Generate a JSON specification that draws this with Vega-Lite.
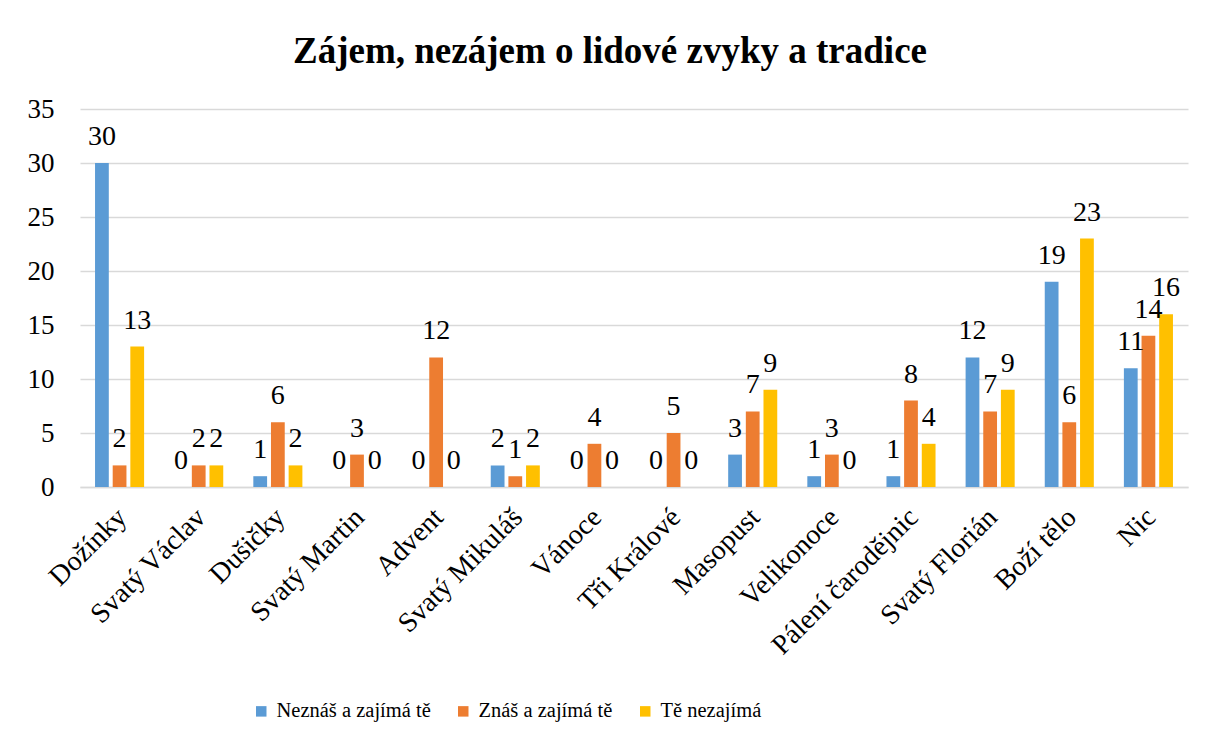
{
  "$schema": "https://vega.github.io/schema/vega-lite/v6.json",
  "width": 1108,
  "height": 378,
  "autosize": {"type": "none"},
  "padding": {"left": 80, "top": 109, "right": 20, "bottom": 257},
  "background": "white",
  "title": {
    "text": "Zájem, nezájem o lidové zvyky a tradice",
    "font": "Liberation Serif",
    "fontSize": 37,
    "fontWeight": "bold",
    "color": "black",
    "anchor": "middle",
    "frame": "group",
    "dx": -24,
    "offset": 24
  },
  "data": {
    "values": [
      {"k": "Dožínky", "s": "Neznáš a zajímá tě", "v": 30},
      {"k": "Dožínky", "s": "Znáš a zajímá tě", "v": 2},
      {"k": "Dožínky", "s": "Tě nezajímá", "v": 13},
      {"k": "Svatý Václav", "s": "Neznáš a zajímá tě", "v": 0},
      {"k": "Svatý Václav", "s": "Znáš a zajímá tě", "v": 2},
      {"k": "Svatý Václav", "s": "Tě nezajímá", "v": 2},
      {"k": "Dušičky", "s": "Neznáš a zajímá tě", "v": 1},
      {"k": "Dušičky", "s": "Znáš a zajímá tě", "v": 6},
      {"k": "Dušičky", "s": "Tě nezajímá", "v": 2},
      {"k": "Svatý Martin", "s": "Neznáš a zajímá tě", "v": 0},
      {"k": "Svatý Martin", "s": "Znáš a zajímá tě", "v": 3},
      {"k": "Svatý Martin", "s": "Tě nezajímá", "v": 0},
      {"k": "Advent", "s": "Neznáš a zajímá tě", "v": 0},
      {"k": "Advent", "s": "Znáš a zajímá tě", "v": 12},
      {"k": "Advent", "s": "Tě nezajímá", "v": 0},
      {"k": "Svatý Mikuláš", "s": "Neznáš a zajímá tě", "v": 2},
      {"k": "Svatý Mikuláš", "s": "Znáš a zajímá tě", "v": 1},
      {"k": "Svatý Mikuláš", "s": "Tě nezajímá", "v": 2},
      {"k": "Vánoce", "s": "Neznáš a zajímá tě", "v": 0},
      {"k": "Vánoce", "s": "Znáš a zajímá tě", "v": 4},
      {"k": "Vánoce", "s": "Tě nezajímá", "v": 0},
      {"k": "Tři Králové", "s": "Neznáš a zajímá tě", "v": 0},
      {"k": "Tři Králové", "s": "Znáš a zajímá tě", "v": 5},
      {"k": "Tři Králové", "s": "Tě nezajímá", "v": 0},
      {"k": "Masopust", "s": "Neznáš a zajímá tě", "v": 3},
      {"k": "Masopust", "s": "Znáš a zajímá tě", "v": 7},
      {"k": "Masopust", "s": "Tě nezajímá", "v": 9},
      {"k": "Velikonoce", "s": "Neznáš a zajímá tě", "v": 1},
      {"k": "Velikonoce", "s": "Znáš a zajímá tě", "v": 3},
      {"k": "Velikonoce", "s": "Tě nezajímá", "v": 0},
      {"k": "Pálení čarodějnic", "s": "Neznáš a zajímá tě", "v": 1},
      {"k": "Pálení čarodějnic", "s": "Znáš a zajímá tě", "v": 8},
      {"k": "Pálení čarodějnic", "s": "Tě nezajímá", "v": 4},
      {"k": "Svatý Florián", "s": "Neznáš a zajímá tě", "v": 12},
      {"k": "Svatý Florián", "s": "Znáš a zajímá tě", "v": 7},
      {"k": "Svatý Florián", "s": "Tě nezajímá", "v": 9},
      {"k": "Boží tělo", "s": "Neznáš a zajímá tě", "v": 19},
      {"k": "Boží tělo", "s": "Znáš a zajímá tě", "v": 6},
      {"k": "Boží tělo", "s": "Tě nezajímá", "v": 23},
      {"k": "Nic", "s": "Neznáš a zajímá tě", "v": 11},
      {"k": "Nic", "s": "Znáš a zajímá tě", "v": 14},
      {"k": "Nic", "s": "Tě nezajímá", "v": 16}
    ]
  },
  "encoding": {
    "x": {
      "field": "k",
      "type": "nominal",
      "sort": null,
      "title": null,
      "scale": {"paddingInner": 0.38, "paddingOuter": 0.19},
      "axis": {
        "labelAngle": -45,
        "labelFont": "Liberation Serif",
        "labelFontSize": 28,
        "labelColor": "black",
        "labelPadding": 16,
        "labelOffset": -7,
        "labelLimit": 0,
        "ticks": false,
        "domainColor": "#D9D9D9",
        "domainWidth": 1.5
      }
    },
    "xOffset": {
      "field": "s",
      "type": "nominal",
      "sort": ["Neznáš a zajímá tě", "Znáš a zajímá tě", "Tě nezajímá"],
      "scale": {"paddingInner": 0.22, "paddingOuter": 0}
    },
    "y": {
      "field": "v",
      "type": "quantitative",
      "title": null,
      "scale": {"domain": [0, 35], "nice": false},
      "axis": {
        "values": [0, 5, 10, 15, 20, 25, 30, 35],
        "labelFont": "Liberation Serif",
        "labelFontSize": 27,
        "labelColor": "black",
        "labelPadding": 26,
        "ticks": false,
        "domain": false,
        "gridColor": "#D9D9D9",
        "gridWidth": 1.5
      }
    }
  },
  "layer": [
    {
      "mark": {"type": "bar"},
      "encoding": {
        "color": {
          "field": "s",
          "type": "nominal",
          "sort": ["Neznáš a zajímá tě", "Znáš a zajímá tě", "Tě nezajímá"],
          "scale": {
            "domain": ["Neznáš a zajímá tě", "Znáš a zajímá tě", "Tě nezajímá"],
            "range": ["#5B9BD5", "#ED7D31", "#FFC000"]
          },
          "legend": {
            "title": null,
            "orient": "none",
            "direction": "horizontal",
            "legendX": 171,
            "legendY": 592,
            "labelFont": "Liberation Serif"
          }
        }
      }
    },
    {
      "mark": {
        "type": "text",
        "font": "Liberation Serif",
        "fontSize": 28,
        "color": "black",
        "align": "center",
        "baseline": "alphabetic",
        "dy": -18
      },
      "encoding": {
        "text": {"field": "v", "type": "quantitative"}
      }
    }
  ],
  "config": {
    "font": "Liberation Serif",
    "view": {"stroke": null},
    "legend": {
      "symbolType": "square",
      "symbolSize": 110,
      "symbolStrokeWidth": 0,
      "symbolOpacity": 1,
      "labelFont": "Liberation Serif",
      "labelFontSize": 20.5,
      "labelColor": "black",
      "labelLimit": 0,
      "labelOffset": 5,
      "columnPadding": 22
    }
  }
}
